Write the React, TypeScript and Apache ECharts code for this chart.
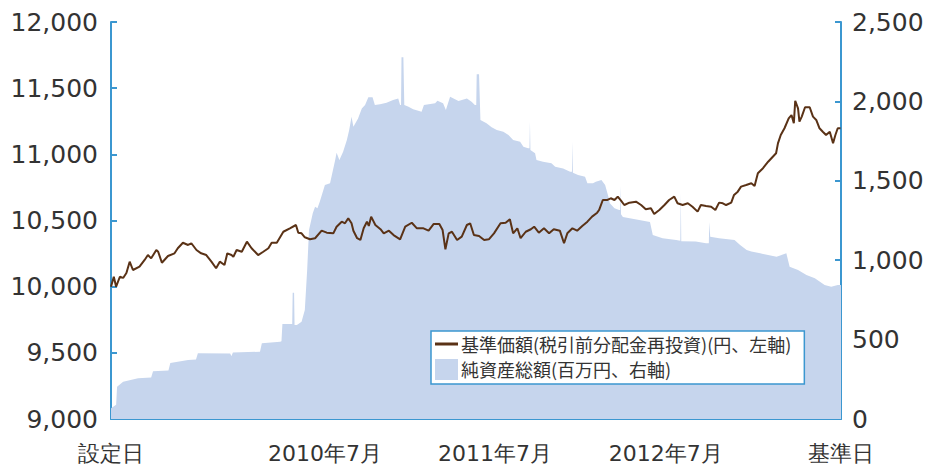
import React, { useEffect, useRef } from "react";
import * as echarts from "echarts";

// x positions are elapsed days since the fund's setup date
const xLabelDays = [0, 458, 822, 1188, 1563];
const xLabelTexts = ["設定日", "2010年7月", "2011年7月", "2012年7月", "基準日"];
const xTickDays = [458, 822, 1188];

const navName = "基準価額(税引前分配金再投資)(円、左軸)";
const aumName = "純資産総額(百万円、右軸)";

const navDays = [0, 6, 11, 19, 26, 33, 40, 47, 61, 72, 79, 86, 97, 101, 109, 122, 136, 143, 154, 165, 172, 183, 193, 204, 215, 225, 233, 243, 249, 258, 262, 269, 280, 291, 301, 315, 326, 337, 344, 355, 369, 383, 396, 401, 408, 415, 426, 437, 451, 462, 476, 483, 494, 501, 508, 515, 519, 527, 534, 541, 548, 552, 557, 566, 577, 584, 595, 605, 619, 630, 644, 655, 669, 680, 691, 703, 710, 716, 723, 730, 741, 751, 762, 769, 777, 788, 799, 809, 820, 834, 845, 854, 861, 870, 877, 888, 899, 906, 916, 927, 938, 948, 961, 970, 977, 988, 998, 1009, 1020, 1030, 1041, 1045, 1053, 1063, 1070, 1078, 1085, 1092, 1099, 1110, 1124, 1135, 1145, 1156, 1163, 1174, 1185, 1195, 1206, 1213, 1224, 1235, 1245, 1256, 1263, 1274, 1285, 1294, 1302, 1310, 1317, 1328, 1334, 1342, 1349, 1360, 1371, 1378, 1385, 1396, 1407, 1417, 1424, 1428, 1434, 1442, 1451, 1457, 1462, 1465, 1471, 1474, 1479, 1486, 1496, 1503, 1510, 1517, 1524, 1531, 1539, 1546, 1551, 1556, 1562];
const navValues = [10000, 10075, 10000, 10075, 10066, 10103, 10189, 10126, 10151, 10202, 10239, 10214, 10277, 10264, 10181, 10232, 10252, 10290, 10332, 10315, 10328, 10277, 10252, 10239, 10189, 10139, 10189, 10164, 10252, 10239, 10226, 10277, 10264, 10340, 10290, 10239, 10264, 10290, 10332, 10332, 10415, 10441, 10466, 10408, 10403, 10373, 10358, 10366, 10423, 10408, 10403, 10453, 10491, 10479, 10517, 10479, 10423, 10366, 10353, 10441, 10491, 10459, 10529, 10466, 10434, 10403, 10423, 10390, 10358, 10453, 10483, 10441, 10441, 10423, 10474, 10474, 10428, 10282, 10403, 10415, 10353, 10378, 10466, 10479, 10390, 10383, 10353, 10358, 10403, 10479, 10483, 10509, 10403, 10441, 10366, 10415, 10434, 10453, 10408, 10441, 10403, 10434, 10423, 10328, 10403, 10441, 10423, 10459, 10491, 10529, 10559, 10579, 10655, 10655, 10668, 10655, 10680, 10650, 10617, 10635, 10642, 10617, 10585, 10592, 10549, 10579, 10617, 10655, 10680, 10630, 10617, 10630, 10604, 10567, 10617, 10610, 10604, 10579, 10635, 10630, 10617, 10635, 10693, 10718, 10756, 10768, 10781, 10761, 10857, 10895, 10944, 10982, 11008, 11083, 11146, 11197, 11272, 11297, 11235, 11405, 11348, 11247, 11285, 11356, 11356, 11285, 11260, 11197, 11171, 11146, 11171, 11083, 11146, 11197, 11197];

const aumDays = [0, 11, 13, 26, 58, 86, 90, 123, 127, 165, 182, 186, 255, 258, 261, 319, 323, 362, 365, 367, 388, 389, 392, 393, 398, 408, 415, 420, 424, 432, 437, 442, 447, 458, 469, 480, 483, 489, 497, 505, 510, 515, 519, 529, 537, 544, 551, 560, 565, 576, 590, 604, 615, 619, 621, 622, 626, 628, 637, 647, 665, 670, 694, 699, 711, 717, 726, 744, 762, 772, 779, 782, 783, 788, 791, 804, 815, 826, 840, 851, 861, 876, 883, 893, 896, 897, 898, 908, 911, 925, 943, 951, 968, 983, 987, 988, 989, 1000, 1015, 1020, 1032, 1038, 1050, 1058, 1065, 1068, 1078, 1088, 1090, 1091, 1092, 1096, 1131, 1154, 1160, 1181, 1210, 1219, 1220, 1221, 1252, 1274, 1280, 1281, 1283, 1302, 1335, 1347, 1361, 1371, 1390, 1407, 1425, 1446, 1453, 1471, 1489, 1507, 1528, 1542, 1556, 1563];
const aumValues = [67, 90, 203, 235, 256, 262, 300, 305, 352, 372, 375, 414, 412, 397, 418, 424, 477, 487, 490, 598, 598, 795, 795, 592, 592, 613, 686, 938, 1190, 1295, 1337, 1327, 1368, 1474, 1484, 1631, 1677, 1631, 1683, 1757, 1820, 1904, 1841, 1893, 1956, 1977, 2026, 2026, 1977, 1982, 1992, 2009, 2019, 1977, 1977, 2278, 2278, 1977, 1967, 1950, 1935, 1977, 1988, 2004, 1988, 1946, 2030, 2002, 2019, 1998, 1977, 1977, 2171, 2171, 1883, 1862, 1837, 1820, 1809, 1788, 1757, 1746, 1715, 1705, 1705, 1872, 1694, 1673, 1631, 1620, 1610, 1589, 1578, 1557, 1557, 1746, 1550, 1536, 1526, 1484, 1484, 1494, 1505, 1474, 1400, 1358, 1327, 1316, 1316, 1467, 1290, 1272, 1253, 1240, 1159, 1138, 1127, 1122, 1421, 1120, 1117, 1106, 1106, 1240, 1148, 1138, 1127, 1096, 1064, 1054, 1043, 1033, 1022, 1043, 959, 938, 907, 886, 844, 833, 844, 844];

const AXIS_BLUE = "#3b97d0";
const NAV_BROWN = "#5a3216";
const AUM_BLUE = "#c6d5ed";
const TEXT = "#333333";
const NUM_FONT = "DejaVu Sans";
const JP_FONT = "'Noto Sans CJK JP', sans-serif";

export default function App() {
  const ref = useRef<HTMLDivElement>(null);
  useEffect(() => {
    if (!ref.current) return;
    const chart = echarts.init(ref.current, undefined, { renderer: "svg" });
    const fmt = (v: number) => v.toLocaleString("en-US");
    chart.setOption({
      animation: false,
      backgroundColor: "#ffffff",
      grid: { left: 111, right: 87, top: 22, bottom: 49, containLabel: false },
      legend: {
        orient: "vertical",
        left: 431,
        top: 331,
        backgroundColor: "#ffffff",
        borderColor: AXIS_BLUE,
        borderWidth: 1.5,
        borderRadius: 0,
        padding: [4, 13, 4, 4],
        itemGap: 6,
        itemWidth: 23,
        itemHeight: 21,
        symbolKeepAspect: true,
        selectedMode: false,
        textStyle: { fontSize: 18, color: TEXT, fontFamily: JP_FONT, padding: [0, 0, 0, -2] },
        data: [
          { name: navName, icon: "path://M0,0L23,0L23,3L0,3Z", itemStyle: { color: NAV_BROWN } },
          { name: aumName, icon: "rect", itemStyle: { color: AUM_BLUE } },
        ],
      },
      xAxis: {
        type: "value",
        min: 0,
        max: 1563,
        axisLine: { show: true, lineStyle: { color: AXIS_BLUE, width: 2 } },
        axisTick: { show: true, inside: true, length: 6, lineStyle: { color: AXIS_BLUE, width: 2 }, customValues: xTickDays },
        axisLabel: {
          customValues: xLabelDays,
          formatter: (v: number) => {
            const i = xLabelDays.indexOf(Math.round(v));
            return i >= 0 ? xLabelTexts[i] : "";
          },
          fontSize: 22,
          color: TEXT,
          fontFamily: NUM_FONT,
          margin: 23,
          showMinLabel: true,
          showMaxLabel: true,
        },
        splitLine: { show: false },
      },
      yAxis: [
        {
          type: "value",
          min: 9000,
          max: 12000,
          interval: 500,
          position: "left",
          axisLine: { show: true, lineStyle: { color: AXIS_BLUE, width: 2 } },
          axisTick: { show: true, inside: true, length: 6, lineStyle: { color: AXIS_BLUE, width: 2 } },
          axisLabel: { formatter: fmt, fontSize: 25, color: TEXT, fontFamily: NUM_FONT, margin: 13 },
          splitLine: { show: false },
        },
        {
          type: "value",
          min: 0,
          max: 2500,
          interval: 500,
          position: "right",
          axisLine: { show: true, lineStyle: { color: AXIS_BLUE, width: 2 } },
          axisTick: { show: true, inside: true, length: 6, lineStyle: { color: AXIS_BLUE, width: 2 } },
          axisLabel: { formatter: fmt, fontSize: 25, color: TEXT, fontFamily: NUM_FONT, margin: 11 },
          splitLine: { show: false },
        },
      ],
      series: [
        {
          name: aumName,
          type: "line",
          yAxisIndex: 1,
          symbol: "none",
          showSymbol: false,
          color: AUM_BLUE,
          lineStyle: { width: 0, color: AUM_BLUE },
          areaStyle: { color: AUM_BLUE, opacity: 1 },
          data: aumDays.map((d, i) => [d, aumValues[i]]),
          z: 1,
        },
        {
          name: navName,
          type: "line",
          yAxisIndex: 0,
          symbol: "none",
          showSymbol: false,
          color: NAV_BROWN,
          lineStyle: { width: 2, color: NAV_BROWN },
          data: navDays.map((d, i) => [d, navValues[i]]),
          z: 3,
        },
      ],
    });
    return () => chart.dispose();
  }, []);
  return (
    <div
      ref={ref}
      style={{ position: "fixed", left: 0, top: 0, width: 928, height: 468, background: "#fff" }}
    />
  );
}
